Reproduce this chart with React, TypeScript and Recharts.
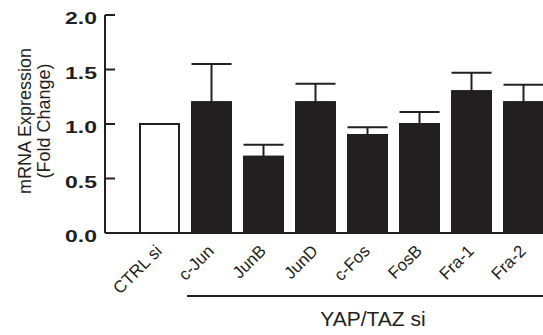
import React from 'react';
import { BarChart, Bar, XAxis, YAxis, Cell, ErrorBar } from 'recharts';

const categories = ['CTRL si', 'c-Jun', 'JunB', 'JunD', 'c-Fos', 'FosB', 'Fra-1', 'Fra-2'];
const means = [1.0, 1.2, 0.7, 1.2, 0.9, 1.0, 1.3, 1.2];
const sems = [0, 0.35, 0.11, 0.17, 0.07, 0.11, 0.17, 0.16];
const yTicks = [0, 0.5, 1.0, 1.5, 2.0];

const data = categories.map((name, i) => ({ name, value: means[i], err: [0, sems[i]] }));

const FONT = '"Liberation Sans", Arial, Helvetica, sans-serif';
const INK = '#231f20';

const YTick = (props: any) => {
  const { x, y, payload } = props;
  return (
    <g>
      <line x1={x + 8} x2={x + 18} y1={y} y2={y} stroke={INK} strokeWidth={2} />
      <text
        transform={`translate(${x} ${y + 3}) scale(1.35 1)`}
        x={0}
        y={0}
        dy="0.36em"
        textAnchor="end"
        fontFamily={FONT}
        fontWeight="bold"
        fontSize={17}
        fill={INK}
      >
        {payload.value.toFixed(1)}
      </text>
    </g>
  );
};

const XTick = (props: any) => {
  const { x, y, payload } = props;
  const ax = x + 4;
  const ay = y + 11;
  return (
    <text x={ax} y={ay} textAnchor="end" fontFamily={FONT} fontSize={17} fill={INK} transform={`rotate(-45 ${ax} ${ay})`}>
      {payload.value}
    </text>
  );
};

export default function App() {
  return (
    <div style={{ position: 'absolute', left: 0, top: 0, width: 543, height: 335, overflow: 'hidden', background: '#fff' }}>
      <BarChart width={560} height={335} data={data} margin={{ top: 15, right: 11, bottom: 42, left: 0 }}>
        <XAxis
          dataKey="name"
          padding={{ left: 28, right: 0 }}
          height={60}
          tickLine={false}
          axisLine={{ stroke: INK, strokeWidth: 2 }}
          tick={<XTick />}
          interval={0}
        />
        <YAxis
          width={105}
          domain={[0, 2]}
          ticks={yTicks}
          tickSize={0}
          tickMargin={8}
          tickLine={false}
          axisLine={{ stroke: INK, strokeWidth: 2 }}
          tick={<YTick />}
        />
        <Bar dataKey="value" barSize={39} stroke={INK} strokeWidth={2} isAnimationActive={false}>
          {data.map((d, i) => (
            <Cell key={d.name} fill={i === 0 ? '#ffffff' : INK} />
          ))}
          <ErrorBar dataKey="err" direction="y" width={20} stroke={INK} strokeWidth={2} isAnimationActive={false} />
        </Bar>
      </BarChart>
      <svg width={543} height={335} style={{ position: 'absolute', left: 0, top: 0, pointerEvents: 'none' }}>
        <text transform="translate(31 121) rotate(-90)" textAnchor="middle" fontFamily={FONT} fontSize={18} fill={INK}>
          <tspan x={0} dy={0}>mRNA Expression</tspan>
          <tspan x={0} dy={19}>(Fold Change)</tspan>
        </text>
        <line x1={187} x2={543} y1={296} y2={296} stroke={INK} strokeWidth={2} />
        <text x={373} y={326} textAnchor="middle" fontFamily={FONT} fontSize={21} fill={INK}>
          YAP/TAZ si
        </text>
      </svg>
    </div>
  );
}
